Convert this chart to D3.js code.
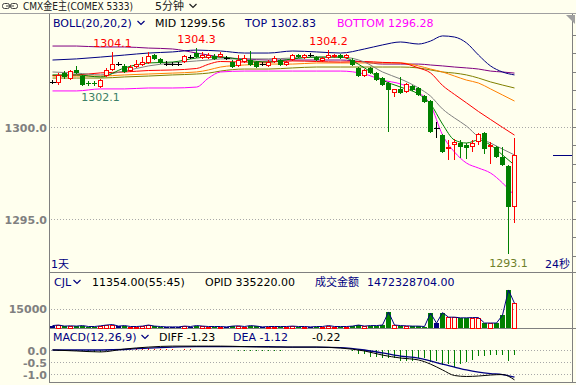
<!DOCTYPE html>
<html><head><meta charset="utf-8">
<script src="https://cdn.jsdelivr.net/npm/d3@7"></script>
<style>
html,body{margin:0;padding:0;background:#FFFFEE;overflow:hidden;}
svg{display:block;}
text{font-family:"DejaVu Sans","Noto Sans CJK SC",sans-serif;font-size:11px;}
</style></head><body>
<svg id="c" width="576" height="385"></svg>
<script>
// ---------- DATA ----------
const open  = [1302.45,1302.39,1302.93,1302.61,1303.10,1302.77,1302.39,1302.39,1302.17,1302.77,
               1303.10,1303.42,1303.32,1303.04,1303.26,1303.37,1303.48,1303.91,1303.70,1303.42,
               1303.42,1303.42,1303.53,1303.80,1304.02,1303.75,1303.75,1303.86,1303.80,1303.75,
               1303.53,1303.32,1303.53,1303.64,1303.53,1303.42,1303.32,1303.53,1303.64,1303.37,
               1303.64,1303.91,1303.75,1303.91,1303.80,1303.59,1303.75,1303.80,1303.91,1303.75,
               1303.64,1303.21,1302.77,1303.21,1302.93,1302.66,1302.39,1301.85,1302.07,1301.90,
               1302.23,1302.12,1301.68,1301.41,1299.95,1299.57,1298.80,1299.02,1299.13,1299.02,
               1298.91,1299.18,1299.67,1298.91,1298.91,1298.37,1297.88,1295.65];
const high  = [1302.55,1302.93,1303.04,1303.10,1303.32,1302.83,1302.50,1302.50,1302.61,1303.21,
               1304.10,1303.53,1303.42,1303.37,1303.64,1303.80,1304.08,1303.97,1303.75,1303.59,
               1303.53,1303.53,1303.91,1303.91,1304.30,1304.08,1304.02,1303.97,1304.08,1303.86,
               1303.64,1303.91,1303.91,1304.13,1303.59,1303.53,1303.64,1303.86,1303.70,1303.59,
               1303.97,1303.97,1303.97,1304.02,1303.86,1303.80,1304.20,1303.97,1303.97,1303.97,
               1303.75,1303.26,1303.15,1303.26,1302.99,1302.72,1302.45,1302.07,1302.72,1302.39,
               1302.28,1302.17,1301.74,1301.47,1300.27,1299.62,1299.29,1299.35,1299.29,1299.13,
               1299.29,1299.67,1299.73,1299.18,1298.97,1298.91,1297.93,1299.40];
const low   = [1302.34,1302.28,1302.61,1302.55,1302.88,1302.23,1302.23,1302.23,1302.12,1302.72,
               1303.04,1303.32,1302.93,1302.99,1303.21,1303.32,1303.42,1303.64,1303.42,1303.32,
               1303.32,1303.32,1303.48,1303.70,1303.75,1303.70,1303.70,1303.64,1303.75,1303.64,
               1303.21,1303.26,1303.48,1303.32,1303.21,1303.32,1303.26,1303.48,1303.32,1303.32,
               1303.59,1303.75,1303.70,1303.80,1303.59,1303.53,1303.70,1303.75,1303.70,1303.70,
               1303.32,1302.72,1302.72,1302.88,1302.50,1302.23,1299.73,1301.63,1301.80,1301.85,
               1301.96,1301.68,1301.30,1299.67,1299.40,1298.59,1298.21,1298.21,1298.32,1298.26,
               1298.64,1299.02,1298.53,1297.99,1298.32,1297.88,1293.10,1294.78];
const close = [1302.45,1302.83,1302.72,1303.04,1302.93,1302.28,1302.31,1302.31,1302.55,1303.10,
               1303.42,1303.42,1302.99,1303.26,1303.42,1303.53,1303.86,1303.70,1303.48,1303.42,
               1303.42,1303.42,1303.86,1303.80,1303.80,1303.91,1303.91,1303.70,1303.97,1303.75,
               1303.26,1303.64,1303.75,1303.37,1303.26,1303.42,1303.53,1303.75,1303.37,1303.53,
               1303.91,1303.80,1303.91,1303.91,1303.64,1303.75,1303.91,1303.91,1303.75,1303.91,
               1303.37,1302.77,1303.10,1302.93,1302.55,1302.28,1302.01,1302.07,1301.85,1302.34,
               1302.01,1301.74,1301.36,1299.73,1299.95,1298.64,1298.91,1299.18,1298.91,1298.86,
               1299.13,1299.62,1298.80,1299.02,1298.37,1297.93,1295.65,1298.48];
const volume = [2200,2600,1800,2000,1800,2200,1500,1500,2000,2600,
                3000,1800,2200,1500,1500,1800,2600,1800,1500,1200,
                1200,1200,1800,1500,2200,1800,1500,1500,1500,1200,
                1800,2000,1500,2200,1800,1200,1500,1500,1500,1500,
                1800,1500,1500,1200,1500,1500,2200,1500,1500,1500,
                1800,2600,1800,2200,2200,2600,12400,2600,2200,2000,
                1800,1800,1500,11600,4000,11900,8500,8500,8000,8000,
                8200,8200,4100,4100,4100,10000,28900,18900];
const macdBar = [-0.02,-0.03,-0.04,-0.05,-0.05,-0.06,-0.07,-0.08,-0.07,-0.04,
                 0.02,0.04,0.05,0.06,0.07,0.08,0.07,0.06,0.05,0.04,
                 0.03,0.02,0.03,0.03,0.02,0.02,0.01,0.01,0.00,0.00,
                 -0.02,-0.03,-0.03,-0.04,-0.05,-0.04,-0.04,-0.03,-0.03,-0.02,
                 -0.01,0.00,0.01,0.01,0.00,-0.01,0.00,0.01,0.00,-0.02,
                 -0.05,-0.18,-0.18,-0.27,-0.27,-0.34,-0.34,-0.34,-0.45,-0.45,
                 -0.45,-0.34,-0.34,-0.48,-0.45,-0.62,-0.59,-0.69,-0.59,-0.51,
                 -0.41,-0.23,-0.23,-0.21,-0.21,-0.21,-0.45,-0.22];

// indicator lines, read at these bar indices
const lineIdx    = [0,4,8,12,16,20,24,26,28,32,36,40,44,48,52,55,58,61,63,65,67,69,71,73,75,77];
const bollTop    = [1303.64,1303.70,1303.80,1303.91,1304.02,1304.08,1304.18,1304.16,1304.13,1304.02,1304.02,1304.13,1304.08,1304.02,1304.24,1304.46,1304.62,1304.51,1304.67,1304.95,1304.89,1304.57,1303.91,1303.32,1302.99,1302.83];
const bollMid    = [1302.80,1302.83,1302.94,1302.99,1303.07,1303.10,1303.18,1303.41,1303.56,1303.53,1303.53,1303.59,1303.56,1303.53,1303.56,1303.51,1303.48,1303.21,1302.94,1302.26,1301.77,1301.31,1300.84,1300.41,1299.98,1299.56];
const bollBottom = [1301.96,1301.96,1302.07,1302.07,1302.12,1302.12,1302.17,1302.66,1302.99,1303.04,1303.04,1303.04,1303.04,1303.04,1302.88,1302.55,1302.34,1301.90,1301.20,1299.57,1298.64,1298.04,1297.77,1297.50,1296.96,1296.28];
const maFast     = [1302.83,1302.83,1302.72,1303.21,1303.48,1303.53,1303.75,1303.80,1303.80,1303.64,1303.53,1303.70,1303.80,1303.80,1303.21,1302.55,1302.17,1301.79,1301.25,1300.16,1299.29,1299.13,1299.29,1299.02,1298.48,1297.93];
const maTen      = [1302.99,1302.93,1302.83,1303.04,1303.32,1303.48,1303.59,1303.64,1303.70,1303.70,1303.70,1303.75,1303.80,1303.80,1303.53,1302.99,1302.61,1302.12,1301.68,1300.98,1300.49,1300.05,1299.46,1299.13,1298.80,1298.48];
const maOrange   = [1302.77,1302.77,1302.77,1302.83,1302.88,1302.93,1302.99,1303.10,1303.26,1303.37,1303.42,1303.42,1303.48,1303.48,1303.48,1303.48,1303.48,1303.32,1303.15,1302.99,1302.77,1302.55,1302.39,1302.07,1301.74,1301.41];
const maOlive    = [1302.66,1302.66,1302.66,1302.72,1302.77,1302.83,1302.88,1302.93,1303.04,1303.15,1303.15,1303.21,1303.26,1303.26,1303.26,1303.26,1303.26,1303.21,1303.10,1302.99,1302.93,1302.83,1302.66,1302.45,1302.28,1302.12];
const maPurple   = [1304.40,1304.40,1304.35,1304.35,1304.29,1304.24,1304.02,1303.91,1303.80,1303.70,1303.64,1303.64,1303.64,1303.64,1303.53,1303.42,1303.42,1303.42,1303.37,1303.32,1303.26,1303.21,1303.15,1303.04,1302.99,1302.93];
const diffLine   = [0,-0.04,-0.08,0.04,0.12,0.16,0.16,0.16,0.16,0.14,0.12,0.12,0.12,0.08,-0.04,-0.21,-0.33,-0.41,-0.58,-0.82,-1.05,-1.09,-1.07,-1.03,-1.01,-1.23];
const deaLine    = [0,0,0,0.02,0.08,0.12,0.14,0.14,0.14,0.14,0.14,0.12,0.12,0.10,0.0,-0.12,-0.25,-0.33,-0.45,-0.58,-0.70,-0.82,-0.91,-0.97,-1.01,-1.12];

const priceTicks = [1300.0, 1295.0];
const volTicks   = [15000];
const macdTicks  = [0.0, -0.5, -1.0];
const peakLabels = [{i:10,v:1304.1,kind:"high"},{i:24,v:1304.3,kind:"high"},{i:46,v:1304.2,kind:"high"},
                    {i:8,v:1302.1,kind:"low"},{i:76,v:1293.1,kind:"low"}];

// ---------- DRAW ----------
const svg = d3.select("#c");
const W = 576;
const X0 = 49, XR = 572;
const x  = d3.scaleLinear().domain([0, close.length-1]).range([52.5, 514.5]);
const yP = d3.scaleLinear().domain([1295, 1300]).range([219, 127]);
const yV = d3.scaleLinear().domain([0, 15000]).range([328.5, 308.5]);
const yM = d3.scaleLinear().domain([-1, 0]).range([374.3, 350]);

const RED="#FF0000", GREEN="#008000", NAVY="#000080";

svg.append("rect").attr("width",576).attr("height",385).attr("fill","#FFFFEE");

// frame
const frame = svg.append("g").attr("stroke","#808080").attr("shape-rendering","crispEdges");
frame.append("line").attr("x1",0).attr("x2",W).attr("y1",13.5).attr("y2",13.5).attr("stroke","#A0A0A0");
frame.append("line").attr("x1",X0+0.5).attr("x2",X0+0.5).attr("y1",14).attr("y2",383);
frame.append("line").attr("x1",XR+0.5).attr("x2",XR+0.5).attr("y1",14).attr("y2",383);
frame.append("line").attr("x1",X0).attr("x2",W).attr("y1",272.5).attr("y2",272.5);
frame.append("line").attr("x1",X0).attr("x2",W).attr("y1",328.5).attr("y2",328.5);
frame.append("line").attr("x1",X0).attr("x2",W).attr("y1",382.5).attr("y2",382.5);
// right ticks
const rt = d3.range(1293, 1306, 1);
frame.selectAll(".rt").data(rt).join("line")
  .attr("x1",XR).attr("x2",XR+4).attr("y1",d=>Math.round(yP(d))+0.5).attr("y2",d=>Math.round(yP(d))+0.5)
  .attr("display",d=>(yP(d)>16&&yP(d)<270)?null:"none");

// title bar
const ic = svg.append("g").attr("fill","none").attr("stroke","#404040");
ic.append("rect").attr("x",2.5).attr("y",3.5).attr("width",7).attr("height",5).attr("rx",2);
ic.append("rect").attr("x",10.5).attr("y",3.5).attr("width",7).attr("height",5).attr("rx",2);
ic.append("line").attr("x1",6).attr("x2",14).attr("y1",6).attr("y2",6);
svg.append("text").attr("x",23).attr("y",10).attr("fill","#202020")
  .attr("textLength",110).attr("lengthAdjust","spacingAndGlyphs").text("CMX金E主(COMEX 5333)");
svg.append("text").attr("x",155).attr("y",10).attr("fill","#202020").text("5分钟");
function chevron(cx, cy, col){
  svg.append("path").attr("d",`M${cx-3.5},${cy-2} L${cx},${cy+1.5} L${cx+3.5},${cy-2}`)
    .attr("fill","none").attr("stroke",col).attr("stroke-width",1.2);
}
chevron(193, 6, "#202020");
// top-right triangle
svg.append("path").attr("d","M566,15 L575,15 L575,24 Z").attr("fill","#A0A0A0");

// grid
const grid = svg.append("g").attr("stroke","#A8A8A8").attr("stroke-dasharray","1,2").attr("shape-rendering","crispEdges");
grid.selectAll(".gp").data(priceTicks).join("line")
  .attr("x1",X0+2).attr("x2",XR).attr("y1",d=>Math.round(yP(d))+0.5).attr("y2",d=>Math.round(yP(d))+0.5);
grid.selectAll(".gv").data(volTicks).join("line")
  .attr("x1",X0+2).attr("x2",XR).attr("y1",d=>Math.round(yV(d))+0.5).attr("y2",d=>Math.round(yV(d))+0.5);
grid.selectAll(".gm").data(macdTicks).join("line")
  .attr("x1",X0+2).attr("x2",XR).attr("y1",d=>Math.round(yM(d))+0.5).attr("y2",d=>Math.round(yM(d))+0.5);

// axis labels
const axl = svg.append("g").attr("fill","#808080").attr("text-anchor","end")
  .style("font-family","'Liberation Sans',Arial,sans-serif").style("font-weight","bold").style("font-size","12px");
axl.selectAll(".ap").data(priceTicks).join("text").attr("x",47).attr("y",d=>yP(d)+4.5).text(d=>d.toFixed(1));
axl.selectAll(".av").data(volTicks).join("text").attr("x",47).attr("y",d=>yV(d)+4.5).text(d=>d);
axl.selectAll(".am").data(macdTicks).join("text").attr("x",47).attr("y",d=>yM(d)+4.5).text(d=>d.toFixed(1));

// clip for main panel
svg.append("clipPath").attr("id","mainclip").append("rect").attr("x",X0+1).attr("y",14).attr("width",XR-X0-1).attr("height",258);

// indicator lines
const mainG = svg.append("g").attr("clip-path","url(#mainclip)");
const lineP = d3.line().x((d,k)=>x(lineIdx[k])).y(d=>yP(d)).curve(d3.curveMonotoneX);
[[maPurple,"#800080"],[maOlive,"#808000"],[maOrange,"#FF8000"],[bollTop,NAVY],[bollBottom,"#FF00FF"],
 [bollMid,RED],[maTen,"#808080"],[maFast,GREEN]].forEach(([arr,col])=>{
  mainG.append("path").attr("d",lineP(arr)).attr("fill","none").attr("stroke",col).attr("stroke-width",1);
});

// candles
const idx = d3.range(close.length);
const dir = i => close[i]>open[i] ? 1 : (close[i]<open[i] ? -1 : 0);
const cg = mainG.append("g").attr("shape-rendering","crispEdges");
idx.forEach(i=>{
  const cx = x(i), col = dir(i)>0?RED:(dir(i)<0?GREEN:"#000000");
  const top = Math.round(yP(Math.max(open[i],close[i]))), bot = Math.round(yP(Math.min(open[i],close[i])));
  const yh = Math.round(yP(high[i])), yl = Math.round(yP(low[i]));
  if(dir(i)>0){
    cg.append("line").attr("x1",cx).attr("x2",cx).attr("y1",yh).attr("y2",top).attr("stroke",col);
    cg.append("line").attr("x1",cx).attr("x2",cx).attr("y1",bot).attr("y2",yl).attr("stroke",col);
    cg.append("rect").attr("x",cx-2.5+0.5).attr("y",top+0.5).attr("width",4).attr("height",Math.max(bot-top-1,1))
      .attr("fill","#FFFFEE").attr("stroke",col);
  } else if(dir(i)<0){
    cg.append("line").attr("x1",cx).attr("x2",cx).attr("y1",yh).attr("y2",yl).attr("stroke",col);
    cg.append("rect").attr("x",cx-2.5).attr("y",top).attr("width",5).attr("height",Math.max(bot-top,1)).attr("fill",col);
  } else {
    cg.append("line").attr("x1",cx).attr("x2",cx).attr("y1",yh).attr("y2",yl).attr("stroke",col);
    cg.append("line").attr("x1",cx-3).attr("x2",cx+3).attr("y1",top+0.5).attr("y2",top+0.5).attr("stroke",col);
  }
});

// peak labels
svg.selectAll(".pk").data(peakLabels).join("text")
  .attr("x",d=>x(d.i)).attr("text-anchor","middle")
  .attr("y",d=>d.kind==="high" ? yP(d.v)-5 : yP(d.v)+13)
  .attr("fill",d=>d.kind==="high"?RED:(d.i===76?"#6E7F2A":"#3C7F66"))
  .text(d=>d.v.toFixed(1));

// current price marker
svg.append("line").attr("x1",553).attr("x2",XR).attr("y1",Math.round(yP(close[close.length-1]))+0.5)
  .attr("y2",Math.round(yP(close[close.length-1]))+0.5).attr("stroke",NAVY).attr("shape-rendering","crispEdges");

// headers
function txt(xp, yp, s, col){ return svg.append("text").attr("x",xp).attr("y",yp).attr("fill",col).text(s); }
txt(53,27,"BOLL(20,20,2)",NAVY); chevron(141,23,NAVY);
txt(155,27,"MID 1299.56","#000000");
txt(245,27,"TOP 1302.83",NAVY);
txt(337,27,"BOTTOM 1296.28","#FF00FF");
txt(51,268,"1天",NAVY);
txt(545,268,"24秒",NAVY);

txt(54,286,"CJL",NAVY); chevron(77,282,NAVY);
txt(92,286,"11354.00(55:45)","#000000");
txt(205,286,"OPID 335220.00","#000000");
txt(315,286,"成交金额",NAVY);
txt(367,286,"1472328704.00",NAVY);

txt(53,341,"MACD(12,26,9)",NAVY); chevron(145,337,NAVY);
txt(159,341,"DIFF -1.23","#000000");
txt(233,341,"DEA -1.12",NAVY);
txt(312,341,"-0.22","#000000");

// volume
const vg = svg.append("g").attr("shape-rendering","crispEdges");
idx.forEach(i=>{
  const cx = x(i), t = Math.round(yV(volume[i])), b = 328;
  if(dir(i)>0){
    vg.append("rect").attr("x",cx-2).attr("y",t+0.5).attr("width",4).attr("height",Math.max(b-t-0.5,1)).attr("fill","none").attr("stroke",RED);
  } else {
    vg.append("rect").attr("x",cx-2.5).attr("y",t).attr("width",5).attr("height",b-t).attr("fill",dir(i)<0?GREEN:NAVY);
  }
});
svg.append("path").attr("d",d3.line().x((d,i)=>x(i)).y(d=>yV(d))(volume)).attr("fill","none").attr("stroke",NAVY);

// macd
const mg = svg.append("g").attr("shape-rendering","crispEdges");
mg.selectAll("line").data(macdBar).join("line")
  .attr("x1",(d,i)=>x(i)).attr("x2",(d,i)=>x(i)).attr("y1",yM(0)).attr("y2",d=>yM(d))
  .attr("stroke",d=>d>=0?RED:GREEN);
const lineM = d3.line().x((d,k)=>x(lineIdx[k])).y(d=>yM(d)).curve(d3.curveMonotoneX);
svg.append("path").attr("d",lineM(deaLine)).attr("fill","none").attr("stroke",NAVY).attr("stroke-width",1.3);
svg.append("path").attr("d",lineM(diffLine)).attr("fill","none").attr("stroke","#000000");
</script>
</body></html>
